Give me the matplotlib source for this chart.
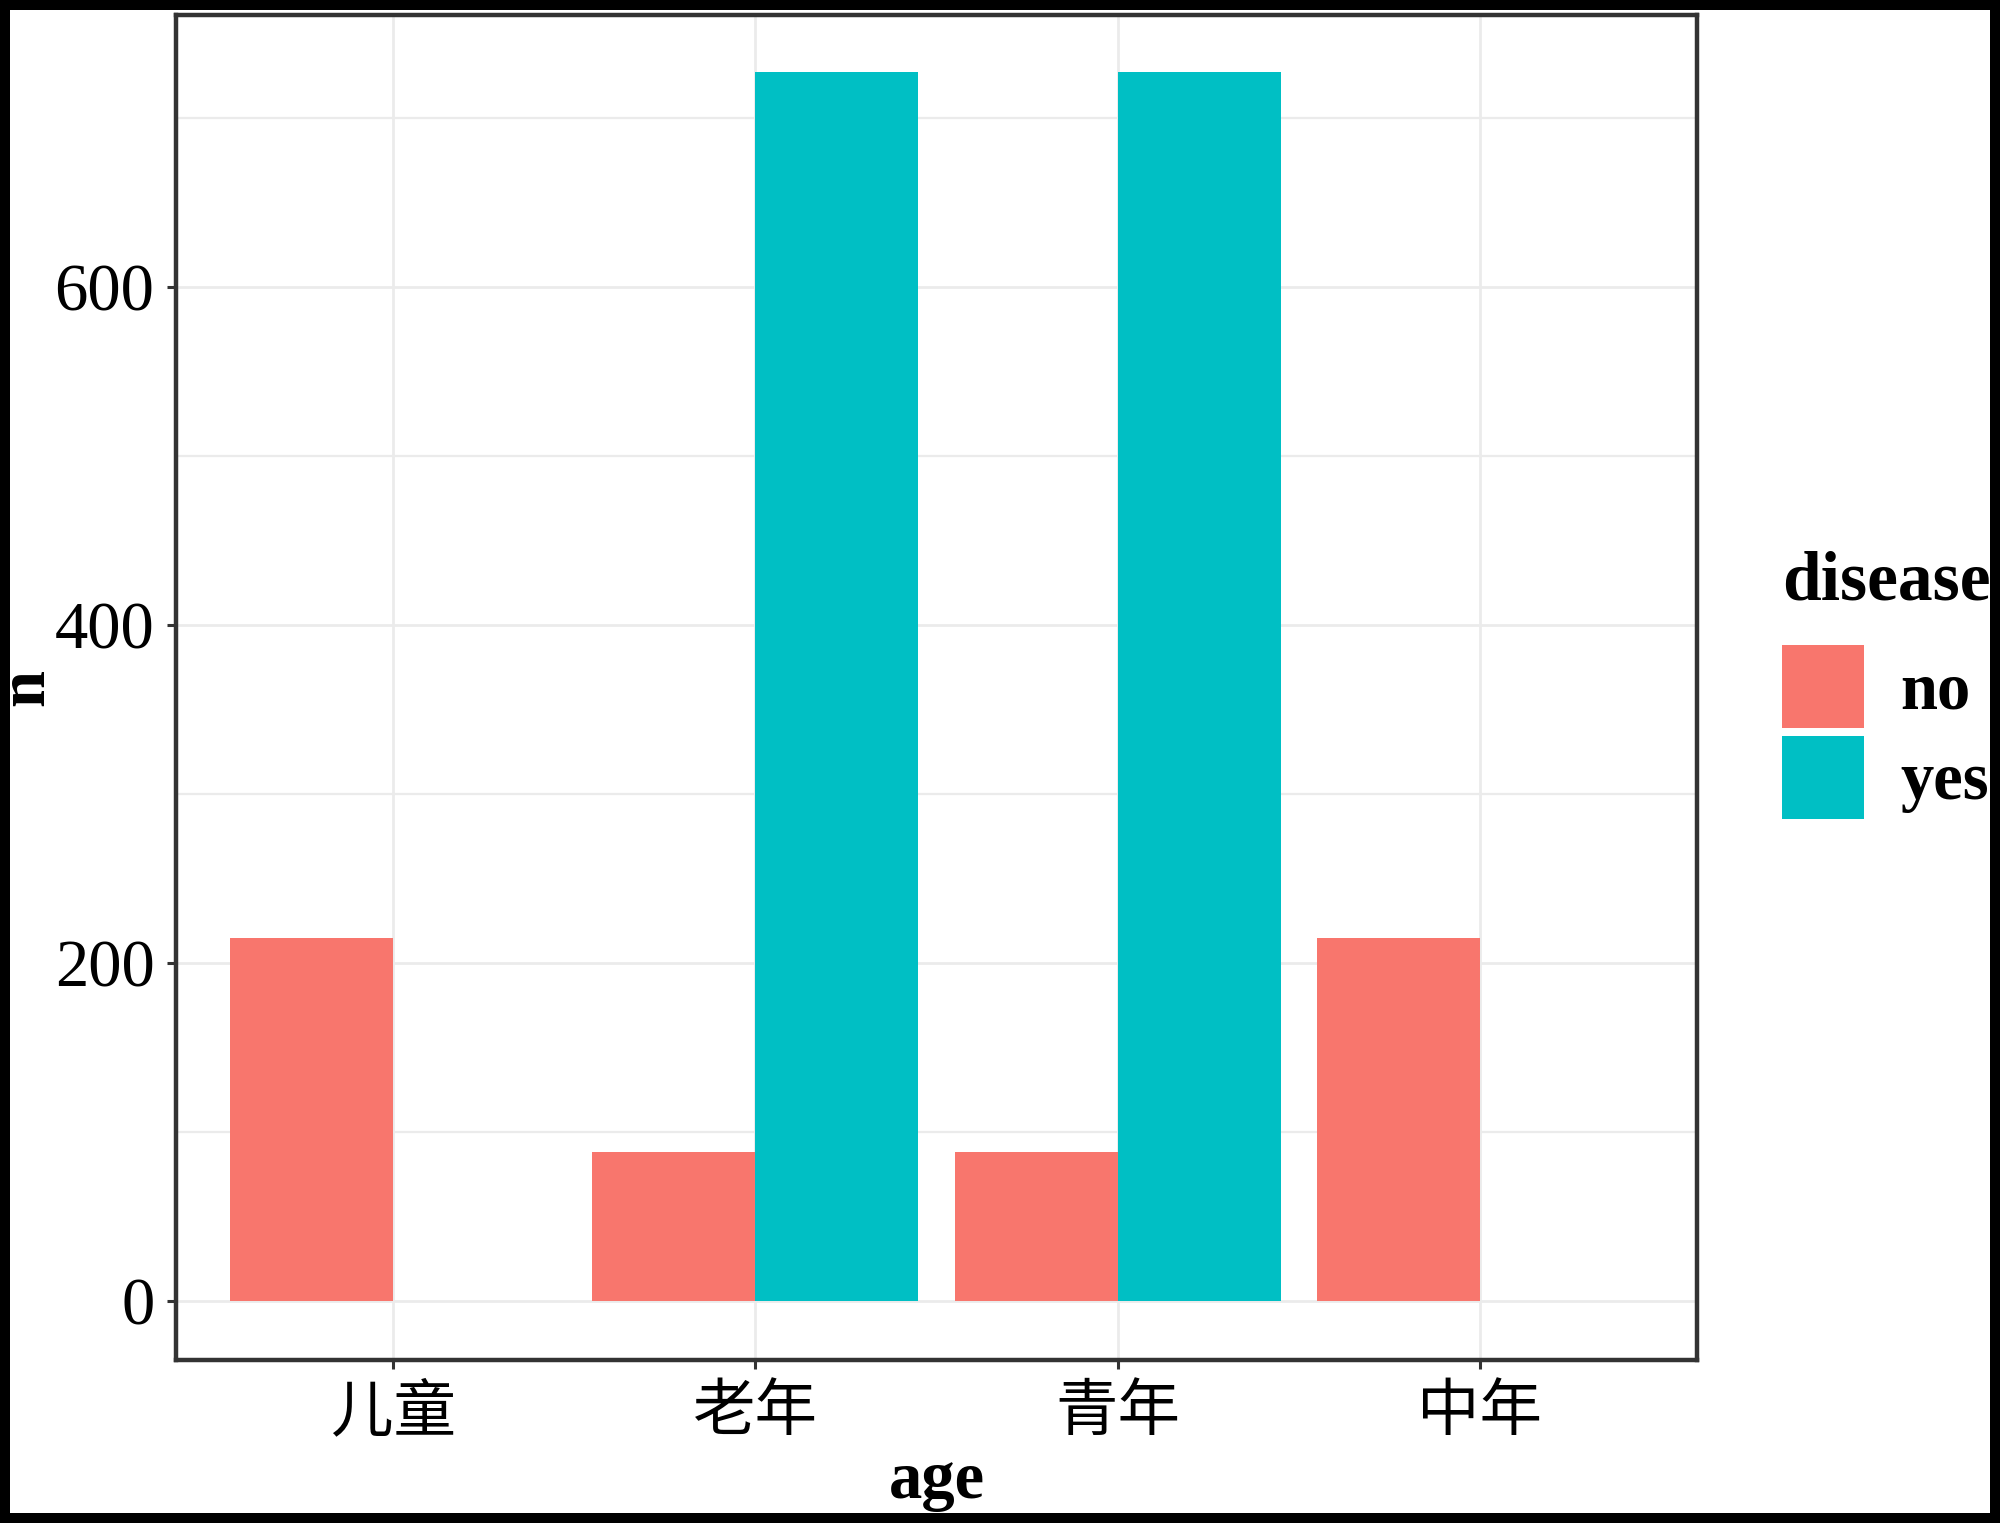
import matplotlib
matplotlib.use("Agg")
import matplotlib.pyplot as plt
from matplotlib.patches import Rectangle
from matplotlib.ticker import MultipleLocator
import numpy as np

categories = ["儿童", "老年", "青年", "中年"]
no_values = [215, 88, 88, 215]
yes_values = [0, 727, 727, 0]
series_names = ["no", "yes"]
y_ticks = [0, 200, 400, 600]
legend_title = "disease"
x_label = "age"
y_label = "n"

W, H = 2000, 1523
fig = plt.figure(figsize=(W / 100, H / 100), dpi=100)
fig.patch.set_facecolor("white")

ax = fig.add_axes([176 / W, 1 - 1360 / H, (1697 - 176) / W, (1360 - 15) / H])
ax.set_facecolor("white")

x = np.arange(len(categories))
bw = 0.45
b_no = ax.bar(x - bw / 2, no_values, width=bw, color="#F8766D", zorder=3, label=series_names[0])
b_yes = ax.bar(x + bw / 2, yes_values, width=bw, color="#00BFC4", zorder=3, label=series_names[1])

ax.set_xlim(-0.6, 3.6)
ax.set_ylim(-35, 761)
ax.set_xticks(x)
ax.set_xticklabels(categories, fontsize=45, family=["Noto Sans CJK SC", "DejaVu Sans"])
ax.set_yticks(y_ticks)
ax.set_yticklabels([str(v) for v in y_ticks], fontsize=48, family="Liberation Serif")
ax.yaxis.set_minor_locator(MultipleLocator(100))

ax.grid(True, which="major", color="#EBEBEB", lw=2.0, zorder=0)
ax.grid(True, which="minor", axis="y", color="#EBEBEB", lw=1.6, zorder=0)
ax.set_axisbelow(True)

for s in ax.spines.values():
    s.set_color("#333333")
    s.set_linewidth(3.2)

ax.tick_params(axis="both", which="major", length=6.5, width=2.2, color="#333333", labelcolor="black")
ax.tick_params(axis="x", pad=8)
ax.tick_params(axis="y", pad=9)
ax.tick_params(axis="y", which="minor", length=0)

ax.set_xlabel(x_label, fontsize=48, fontweight="bold", family="Liberation Serif")
ax.xaxis.set_label_coords(0.5, -0.068)
ax.set_ylabel(y_label, fontsize=48, fontweight="bold", family="Liberation Serif")
ax.yaxis.set_label_coords(-0.078, 0.5)

leg = fig.legend(handles=[b_no, b_yes], labels=series_names, loc="upper left",
                 bbox_to_anchor=(1782 / W, 1 - 550 / H), frameon=False,
                 title=legend_title, alignment="left",
                 prop={"family": "Liberation Serif", "size": 48, "weight": "bold"},
                 title_fontproperties={"family": "Liberation Serif", "size": 50, "weight": "bold"},
                 handlelength=1.23, handleheight=1.54, labelspacing=0.12,
                 handletextpad=0.54, borderpad=0, borderaxespad=0)
leg._legend_box.sep = 22
leg.set_zorder(5)

border = Rectangle((0, 0), 1, 1, transform=fig.transFigure, fill=False,
                   edgecolor="black", linewidth=14.4, zorder=20)
fig.patches.append(border)

fig.savefig("out.png", dpi=100, facecolor="white")
